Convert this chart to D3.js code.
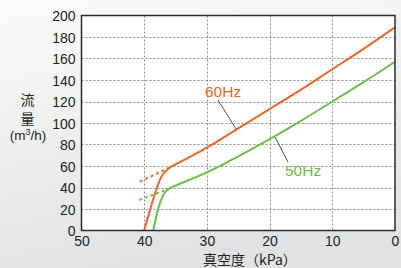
<!DOCTYPE html>
<html>
<head>
<meta charset="utf-8">
<script src="https://cdn.jsdelivr.net/npm/d3@7"></script>
<style>
  html, body { margin: 0; padding: 0; }
  svg { display: block; }
  .tick text { font-family: "Liberation Sans", Arial, sans-serif; font-size: 14px; fill: #231f20; }
</style>
</head>
<body>
<svg id="chart" width="401" height="268"></svg>
<script>
// vacuum (kPa) vs flow (m3/h)
var xTicks = [50, 40, 30, 20, 10, 0];
var yTicks = [0, 20, 40, 60, 80, 100, 120, 140, 160, 180, 200];

// 60Hz curve: steep start, then main curve
var hz60Low = [[40, 0], [39.0, 20.6], [38.0, 39], [37.1, 51.6], [35.7, 59.3]];
var hz60High = [[35.7, 59.3], [30, 77], [25, 95], [20, 113], [15, 131], [10, 150], [5, 169], [0, 189]];
var hz60Dash = [[40.7, 45.4], [35.7, 59.3]];

// 50Hz curve
var hz50Low = [[38.55, 0], [37.75, 20.6], [36.95, 33], [36.3, 38], [35.7, 40]];
var hz50High = [[35.7, 40], [34.3, 43.5], [30, 54], [25, 69], [20, 85], [15, 102], [10, 120], [5, 138], [0, 157]];
var hz50Dash = [[40.8, 28.4], [35.9, 39]];

var orange = "#f26524";
var green = "#6cc04a";

var svg = d3.select("#chart");
var W = 401, H = 268;
var plotL = 81.5, plotR = 395, plotT = 15.5, plotB = 230.5;

var defs = svg.append("defs");
var grad = defs.append("linearGradient")
  .attr("id", "bg").attr("x1", 0).attr("y1", 0).attr("x2", 0.3).attr("y2", 1);
grad.append("stop").attr("offset", "0%").attr("stop-color", "#fbfbfb");
grad.append("stop").attr("offset", "100%").attr("stop-color", "#e1e2e3");
svg.append("rect").attr("width", W).attr("height", H).attr("fill", "url(#bg)");

var x = d3.scaleLinear().domain([50, 0]).range([plotL, plotR]);
var y = d3.scaleLinear().domain([0, 200]).range([plotB, plotT]);

svg.append("rect")
  .attr("x", plotL).attr("y", plotT)
  .attr("width", plotR - plotL).attr("height", plotB - plotT)
  .attr("fill", "#fff");

// grid
var grid = svg.append("g")
  .attr("stroke", "#8a8a8a").attr("stroke-width", 1).attr("stroke-dasharray", "2,2");
grid.selectAll("line.h")
  .data(yTicks.filter(function(d) { return d > 0 && d < 200; }))
  .enter().append("line")
  .attr("x1", plotL).attr("x2", plotR)
  .attr("y1", function(d) { return Math.round(y(d)) + 0.5; })
  .attr("y2", function(d) { return Math.round(y(d)) + 0.5; });
grid.selectAll("line.v")
  .data(xTicks.filter(function(d) { return d > 0 && d < 50; }))
  .enter().append("line")
  .attr("y1", plotT).attr("y2", plotB)
  .attr("x1", function(d) { return Math.round(x(d)) + 0.5; })
  .attr("x2", function(d) { return Math.round(x(d)) + 0.5; });

// axes (labels only)
var yAxis = svg.append("g")
  .attr("transform", "translate(" + (plotL - 6) + ",0)")
  .call(d3.axisLeft(y).tickValues(yTicks).tickSize(0).tickPadding(0));
yAxis.select(".domain").remove();
yAxis.selectAll("text").attr("dy", "0.36em");

var xAxis = svg.append("g")
  .attr("transform", "translate(0," + (plotB + 2) + ")")
  .call(d3.axisBottom(x).tickValues(xTicks).tickSize(0).tickPadding(0));
xAxis.select(".domain").remove();
xAxis.selectAll("text").attr("dy", "0.95em");

// curves
var lineLow = d3.line()
  .x(function(d) { return x(d[0]); })
  .y(function(d) { return y(d[1]); })
  .curve(d3.curveCatmullRom.alpha(0.5));
var lineHigh = d3.line()
  .x(function(d) { return x(d[0]); })
  .y(function(d) { return y(d[1]); })
  .curve(d3.curveMonotoneX);
var lineStraight = d3.line()
  .x(function(d) { return x(d[0]); })
  .y(function(d) { return y(d[1]); });

var series = [
  { color: orange, low: hz60Low, high: hz60High, dash: hz60Dash },
  { color: green, low: hz50Low, high: hz50High, dash: hz50Dash }
];

series.forEach(function(s) {
  var g = svg.append("g").attr("fill", "none").attr("stroke", s.color)
    .attr("stroke-width", 2).attr("stroke-linejoin", "round");
  g.append("path").attr("d", lineLow(s.low));
  g.append("path").attr("d", lineHigh(s.high));
  g.append("path").attr("d", lineStraight(s.dash))
    .attr("stroke-dasharray", "3,3");
});

// border
svg.append("rect")
  .attr("x", plotL).attr("y", plotT)
  .attr("width", plotR - plotL).attr("height", plotB - plotT)
  .attr("fill", "none").attr("stroke", "#2b2b2b").attr("stroke-width", 1.5);

// series labels with leader lines
svg.append("line").attr("x1", 218).attr("y1", 100).attr("x2", 236).attr("y2", 129)
  .attr("stroke", "#231f20").attr("stroke-width", 0.8);
svg.append("line").attr("x1", 275).attr("y1", 137).attr("x2", 288).attr("y2", 162)
  .attr("stroke", "#231f20").attr("stroke-width", 0.8);

svg.append("text").attr("x", 205).attr("y", 97)
  .attr("font-family", "Liberation Sans, Arial, sans-serif").attr("font-size", 15.5)
  .attr("fill", orange).text("60Hz");
svg.append("text").attr("x", 285).attr("y", 175.5)
  .attr("font-family", "Liberation Sans, Arial, sans-serif").attr("font-size", 15.5)
  .attr("fill", green).text("50Hz");

// axis titles
var cjk = "'Noto Sans CJK JP', 'Noto Sans CJK SC', sans-serif";
svg.append("text").attr("x", 27.5).attr("y", 105).attr("text-anchor", "middle")
  .attr("font-family", cjk).attr("font-size", 14).attr("fill", "#231f20").text("流");
svg.append("text").attr("x", 27.5).attr("y", 124).attr("text-anchor", "middle")
  .attr("font-family", cjk).attr("font-size", 14).attr("fill", "#231f20").text("量");
var unit = svg.append("text").attr("x", 28).attr("y", 139.5).attr("text-anchor", "middle")
  .attr("font-family", "Liberation Sans, Arial, sans-serif").attr("font-size", 13.5)
  .attr("fill", "#231f20");
unit.append("tspan").text("(m");
unit.append("tspan").attr("font-size", 9).attr("dy", -5).text("3");
unit.append("tspan").attr("dy", 5).text("/h)");

svg.append("text").attr("x", 203).attr("y", 264.5)
  .attr("font-family", cjk).attr("font-size", 14).attr("fill", "#231f20")
  .text("真空度（kPa）");
</script>
</body>
</html>
